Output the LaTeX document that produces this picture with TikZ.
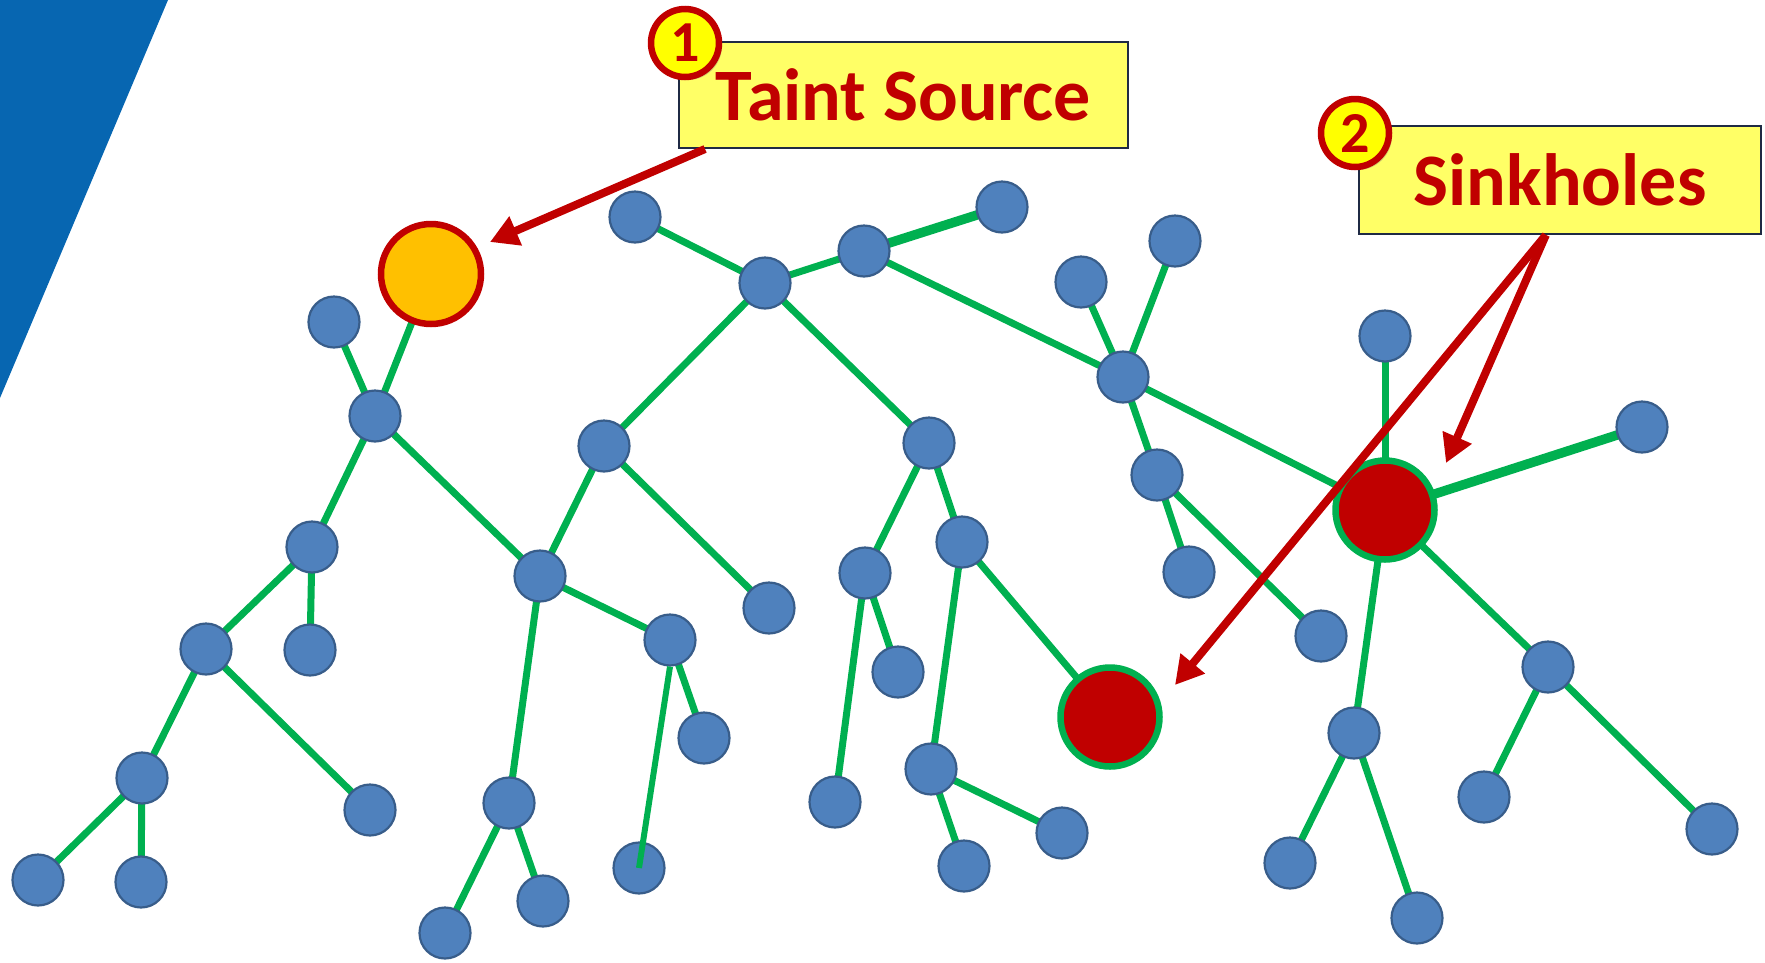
\documentclass[tikz,border=0pt]{standalone}
\usepackage{fontspec}
\setmainfont{Carlito}
\usetikzlibrary{arrows.meta,backgrounds,calc,shadows}

\definecolor{nodeblue}{HTML}{4F81BD}
\definecolor{nodeedge}{HTML}{385D8A}
\definecolor{linkgreen}{HTML}{00B050}
\definecolor{alertred}{HTML}{C00000}
\definecolor{srcorange}{HTML}{FFC000}
\definecolor{notefill}{HTML}{FFFF66}
\definecolor{noteedge}{HTML}{1F2A44}
\definecolor{badgefill}{HTML}{FFFF00}
\definecolor{bandblue}{HTML}{0766B1}

\tikzset{
  leaf/.style={circle, fill=nodeblue, draw=nodeedge, line width=2.2pt,
    minimum size=51pt, inner sep=0pt},
  source/.style={circle, fill=srcorange, draw=alertred, line width=6.5pt,
    minimum size=100pt, inner sep=0pt},
  sink/.style={circle, fill=alertred, draw=linkgreen, line width=6.5pt,
    minimum size=99pt, inner sep=0pt},
  link/.style={draw=linkgreen, line width=7pt},
  thicklink/.style={draw=linkgreen, line width=9.5pt},
  note/.style={rectangle, fill=notefill, draw=noteedge, line width=2pt,
    inner sep=0pt, text=alertred,
    font=\bfseries\fontsize{74}{80}\selectfont},
  badge/.style={circle, fill=badgefill, draw=alertred, line width=6.5pt,
    minimum size=68pt, inner sep=0pt, text=alertred,
    font=\bfseries\fontsize{58}{58}\selectfont,
    drop shadow={shadow xshift=3pt, shadow yshift=-3pt, opacity=0.35}},
  pointer/.style={draw=alertred, line width=8pt,
    -{Triangle[length=28pt, width=30pt]}},
}

\begin{document}
\begin{tikzpicture}[x=1pt, y=-1pt]
\useasboundingbox (0,0) rectangle (1765,962);

% graph nodes
\node[source] (o) at (431,274) {};
\node[leaf] (a1) at (334,322) {};
\node[leaf] (a2) at (375,416) {};
\node[leaf] (a3) at (312,547) {};
\node[leaf] (a4) at (540,576) {};
\node[leaf] (b1) at (206,649) {};
\node[leaf] (b2) at (310,650) {};
\node[leaf] (b3) at (142,778) {};
\node[leaf] (b4) at (370,810) {};
\node[leaf] (b5) at (38,880) {};
\node[leaf] (b6) at (141,882) {};
\node[leaf] (c1) at (509,803) {};
\node[leaf] (c2) at (445,933) {};
\node[leaf] (c3) at (543,901) {};
\node[leaf] (d1) at (635,217) {};
\node[leaf] (d2) at (765,283) {};
\node[leaf] (d3) at (864,251) {};
\node[leaf] (d4) at (1002,207) {};
\node[leaf] (d5) at (604,446) {};
\node[leaf] (d6) at (929,443) {};
\node[leaf] (e1) at (1081,282) {};
\node[leaf] (e2) at (1175,241) {};
\node[leaf] (e3) at (1123,377) {};
\node[leaf] (e4) at (1157,475) {};
\node[leaf] (e5) at (1189,572) {};
\node[leaf] (e6) at (1321,636) {};
\node[leaf] (f1) at (865,573) {};
\node[leaf] (f2) at (962,542) {};
\node[leaf] (f3) at (769,608) {};
\node[leaf] (f4) at (898,672) {};
\node[leaf] (f5) at (835,802) {};
\node[leaf] (f6) at (931,769) {};
\node[leaf] (f7) at (1062,833) {};
\node[leaf] (f8) at (964,866) {};
\node[leaf] (g1) at (670,640) {};
\node[leaf] (g2) at (704,738) {};
\node[leaf] (g3) at (639,868) {};
\node[leaf] (h1) at (1385,336) {};
\node[leaf] (h2) at (1642,427) {};
\node[leaf] (h3) at (1548,667) {};
\node[leaf] (h4) at (1354,733) {};
\node[leaf] (h5) at (1484,797) {};
\node[leaf] (h6) at (1712,829) {};
\node[leaf] (h7) at (1290,863) {};
\node[leaf] (h8) at (1417,918) {};
\node[sink] (s1) at (1385,510) {};
\node[sink] (s2) at (1110,717) {};

% links behind the nodes, and the corner band
\begin{scope}[on background layer]
  \fill[bandblue] (0,0) -- (168,0) -- (0,398) -- cycle;
  \foreach \p/\q in {a1/a2, o/a2, a2/a3, a2/a4, a3/b1, a3/b2, b1/b3, b1/b4,
      b3/b5, b3/b6, a4/d5, a4/g1, a4/c1, c1/c2, c1/c3, g1/g2, d5/d2, d5/f3,
      d1/d2, d2/d3, d2/d6, d3/e3, e3/e1, e3/e2, e3/e4, e3/s1, e4/e5, e4/e6,
      d6/f1, d6/f2, f1/f4, f1/f5, f2/s2, f2/f6, f6/f7, f6/f8, s1/h1, s1/h3,
      s1/h4, h3/h5, h3/h6, h4/h7, h4/h8}
    \draw[link] (\p.center) -- (\q.center);
  \draw[thicklink] (d3.center) -- (d4.center);
  \draw[thicklink] (s1.center) -- (h2.center);
\end{scope}
% this link runs on into the node it reaches
\draw[link, line width=6pt] (g1.south) -- (g3.center);

% callout boxes
\node[note, minimum width=449pt, minimum height=106pt] (ts) at (903.5,95) {Taint Source};
\node[note, minimum width=402pt, minimum height=108pt] (sk) at (1560,180) {Sinkholes};
\node[badge] (n1) at (685,43) {1};
\node[badge] (n2) at (1355,133) {2};

% pointers from the callouts
\coordinate (t1) at (490,242);
\coordinate (t2) at (1175,685);
\coordinate (t3) at (1446,463);
\coordinate (k0) at ($(sk.south west)!0.465!(sk.south east)$);
\draw[pointer] ($(ts.south west)!0.06!(ts.south east)$) -- (t1);
\draw[pointer] (k0) -- (t2);
\draw[pointer] (k0) -- (t3);
\end{tikzpicture}
\end{document}
